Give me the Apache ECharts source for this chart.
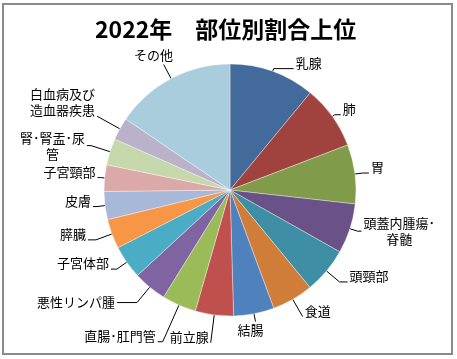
<!DOCTYPE html>
<html>
<head>
<meta charset="utf-8">
<script src="https://cdn.jsdelivr.net/npm/echarts@6/dist/echarts.min.js"></script>
<style>
html,body{margin:0;padding:0;background:#fff;}
#main{width:457px;height:359px;}
</style>
</head>
<body>
<div id="main"></div>
<script>
var titleText = '2022年　部位別割合上位';
var categories = ['乳腺','肺','胃','頭蓋内腫瘍･\n脊髄','頭頸部','食道','結腸','前立腺','直腸･肛門管','悪性リンパ腫','子宮体部','膵臓','皮膚','子宮頸部','腎･腎盂･尿\n管','白血病及び\n造血器疾患','その他'];
var values = [11.0, 8.2, 7.6, 6.4, 5.9, 5.3, 5.2, 4.9, 4.4, 4.3, 4.3, 3.8, 3.6, 3.4, 3.4, 2.9, 15.5];
var colors = ['#426A9B','#A0433F','#809C4A','#6A5187','#3E8FA5','#CF7D39','#4F81BD','#C0504D','#9BBB59','#8064A2','#4BACC6','#F79646','#A8B8D8','#DAA9A8','#C6D7AC','#BAB1CB','#A9CDDC'];
// leader line styling per slice: [radial length, horizontal length, text placement]
var lineLen  = [3, 3, 8, 8, 17, 20, 8, 28, 40, 20, 12, 17, 8, 4, 20, 26, 16];
var lineLen2 = [20, 6, 6, 4, 8, 0, 0, 0, 5, 20, 6, 8, 4, 3, 4, 0, 0];
var labelModes = ['b','b','b','c','b','b','below','b','b','c','b','b','b','b','c','b','above'];

var chart = echarts.init(document.getElementById('main'), null, {renderer:'canvas'});
var data = categories.map(function(c,i){
  return {name:c, value:values[i], itemStyle:{color:colors[i]}, labelLine:{length:lineLen[i], length2:lineLen2[i]}};
});
chart.setOption({
  animation:false,
  title:{text:titleText, left:95, top:18, padding:0, textStyle:{fontFamily:'Noto Sans CJK JP', fontSize:23, fontWeight:'bold', color:'#000'}},
  graphic:[{type:'rect', shape:{x:3,y:4,width:449,height:350}, style:{fill:'none', stroke:'#8a8a8a', lineWidth:2}, silent:true}],
  series:[{
    type:'pie',
    center:[230,190],
    radius:126,
    startAngle:90,
    clockwise:true,
    avoidLabelOverlap:false,
    data:data,
    itemStyle:{borderColor:'rgba(255,255,255,0.6)', borderWidth:0.6},
    label:{show:true, fontFamily:'Noto Sans CJK JP', fontSize:13, color:'#000', align:'center', lineHeight:16, distanceToLabelLine:2},
    labelLine:{show:true, lineStyle:{color:'#000', width:1}},
    labelLayout:function(params){
      var pts = params.labelLinePoints;
      if(!pts) return {};
      var p0 = pts[0], p1 = pts[1], p2 = pts[2];
      var w = params.labelRect.width;
      var side = p1[0] >= p0[0] ? 1 : -1;
      var mode = labelModes[params.dataIndex];
      var gap = 2;
      var res = {align:'center', labelLinePoints:pts};
      if(mode === 'above'){
        res.x = p2[0] - 10; res.y = p2[1] - 1; res.verticalAlign = 'bottom';
      } else if(mode === 'below'){
        res.x = p2[0] - 5; res.y = p2[1] + 1; res.verticalAlign = 'top';
      } else {
        res.x = p2[0] + side*(gap + w/2);
        if(mode === 'b'){ res.y = p2[1] + 2; res.verticalAlign = 'bottom'; }
        else { res.y = p2[1]; res.verticalAlign = 'middle'; }
      }
      return res;
    },
    emphasis:{disabled:true}
  }]
});
</script>
</body>
</html>
